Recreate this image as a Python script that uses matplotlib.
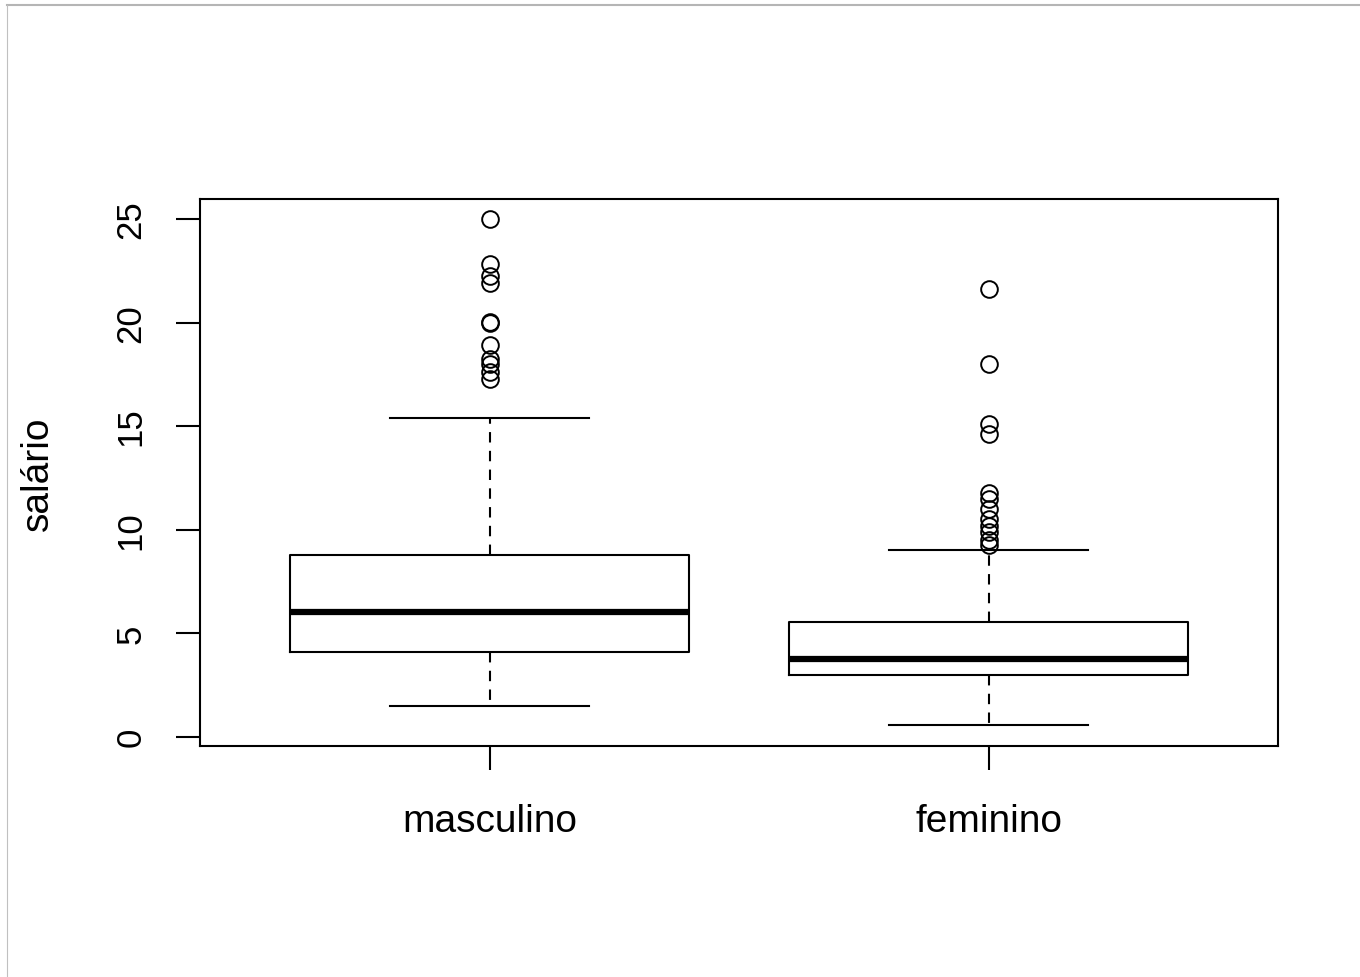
import matplotlib
matplotlib.use("Agg")
import matplotlib.pyplot as plt
from matplotlib.lines import Line2D

plt.rcParams['font.family'] = ['Liberation Sans', 'DejaVu Sans']

# Summary values
grupos = ['masculino', 'feminino']
whislo = [1.5, 0.58]
q1 = [4.1, 2.99]
medianas = [6.03, 3.76]
q3 = [8.78, 5.55]
whishi = [15.4, 9.02]
outliers_masc = [25.0, 22.83, 22.25, 21.9, 20.05, 20.0, 18.9, 18.24, 18.0, 17.6, 17.3]
outliers_fem = [21.62, 18.0, 15.1, 14.6, 11.75, 11.5, 11.0, 10.5, 10.2, 9.9, 9.5, 9.25]

stats = []
for i, nome in enumerate(grupos):
    stats.append({
        'label': nome,
        'whislo': whislo[i],
        'q1': q1[i],
        'med': medianas[i],
        'q3': q3[i],
        'whishi': whishi[i],
        'fliers': [outliers_masc, outliers_fem][i],
    })

fig = plt.figure(figsize=(13.6, 9.78), dpi=100)
ax = fig.add_axes([0.1471, 0.2362, 0.7926, 0.5593])

ax.bxp(stats, positions=[1, 2], widths=0.8, showfliers=True,
       boxprops=dict(color='black', linewidth=1.5),
       medianprops=dict(color='black', linewidth=4.5, solid_capstyle='butt'),
       whiskerprops=dict(color='black', linewidth=1.5, linestyle=(0, (5, 4))),
       capprops=dict(color='black', linewidth=1.5),
       capwidths=0.4,
       flierprops=dict(marker='o', markersize=12, markerfacecolor='none',
                       markeredgecolor='black', markeredgewidth=1.4))

ax.set_xlim(0.42, 2.58)
ax.set_ylim(-0.45, 25.97)
ax.set_yticks([0, 5, 10, 15, 20, 25])
ax.set_yticklabels(['0', '5', '10', '15', '20', '25'], rotation=90, va='center', fontsize=25)
ax.set_xticks([1, 2])
ax.set_xticklabels(grupos, fontsize=28)
ax.tick_params(axis='both', length=17, width=1.5, color='black')
ax.tick_params(axis='y', pad=21)
ax.tick_params(axis='x', pad=24)
for s in ax.spines.values():
    s.set_linewidth(1.5)
ax.set_ylabel('salário', fontsize=28, labelpad=42)

# thin grey edge at top and left of the image
fig.add_artist(Line2D([0.005, 1.0], [0.9935, 0.9935], color='#b5b5b5', linewidth=1.5))
fig.add_artist(Line2D([0.0052, 0.0052], [0.0, 0.9935], color='#c0c0c0', linewidth=0.8))

fig.savefig('out.png', dpi=100)
